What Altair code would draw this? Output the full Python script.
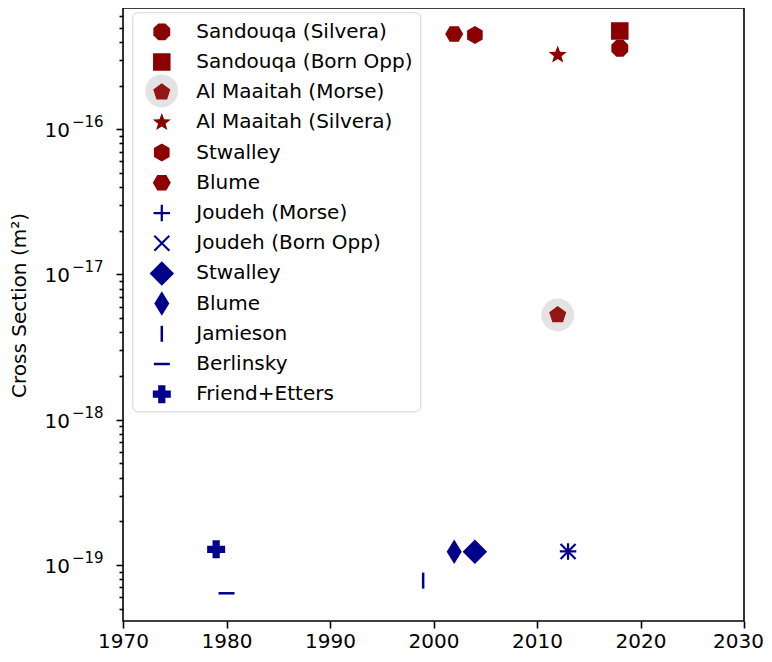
import math
import altair as alt
import pandas as pd

# ---------------- data ----------------
series_keys = [
    "Sandouqa (Silvera)", "Sandouqa (Born Opp)", "Al Maaitah (Morse)",
    "Al Maaitah (Silvera)", "Stwalley ", "Blume ", "Joudeh (Morse)",
    "Joudeh (Born Opp)", "Stwalley", "Blume", "Jamieson", "Berlinsky",
    "Friend+Etters",
]
years = [2018, 2018, 2012, 2012, 2004, 2002, 2013, 2013, 2004, 2002, 1999, 1980, 1979]
cross_sections = [3.61e-16, 4.75e-16, 5.26e-18, 3.25e-16, 4.46e-16, 4.53e-16,
                  1.24e-19, 1.24e-19, 1.235e-19, 1.235e-19, 7.8e-20, 6.38e-20, 1.28e-19]
highlighted = ["Al Maaitah (Morse)"]
x_ticks = [1970, 1980, 1990, 2000, 2010, 2020, 2030]
decades = [-16, -17, -18, -19]

# ---------------- styles ----------------
RED = "#8b0000"
BLUE = "#00008b"
colors = [RED, RED, "#931616", RED, RED, RED,
          BLUE, BLUE, BLUE, BLUE, BLUE, BLUE, BLUE]


def poly(pts):
    return "M" + " L".join(f"{x:.3f},{y:.3f}" for x, y in pts) + " Z"


def regular(n, r, start):
    return [(r * math.cos(math.radians(start + 360 * k / n)),
             r * math.sin(math.radians(start + 360 * k / n))) for k in range(n)]


def star(ro, ri):
    pts = []
    for k in range(10):
        r = ro if k % 2 == 0 else ri
        a = math.radians(-90 + 36 * k)
        pts.append((r * math.cos(a), r * math.sin(a)))
    return pts


def rect(hw, hh):
    return [(-hw, -hh), (hw, -hh), (hw, hh), (-hw, hh)]


def xcross(L, t):
    h = t / math.sqrt(2)
    r1 = [(-L + h, -L - h), (L + h, L - h), (L - h, L + h), (-L - h, -L + h)]
    r2 = [(-L + h, L + h), (-L - h, L - h), (L - h, -L - h), (L + h, -L + h)]
    return poly(r1) + " " + poly(r2)


def plus_thin(L, t):
    return poly(rect(L, t)) + " " + poly([(-t, -L), (t, -L), (t, L), (-t, L)])


def plus_filled(a, b):
    return poly([(-b, -a), (b, -a), (b, -b), (a, -b), (a, b), (b, b), (b, a),
                 (-b, a), (-b, b), (-a, b), (-a, -b), (-b, -b)])


shapes = [
    poly(regular(8, 0.73, 22.5)),          # octagon
    poly(rect(0.70, 0.70)),                # square
    poly(regular(5, 0.72, -90)),           # pentagon
    poly(star(0.76, 0.32)),                # star
    poly(regular(6, 0.72, -90)),           # hexagon (pointy top)
    poly(regular(6, 0.72, 0)),             # hexagon (pointy sides)
    plus_thin(0.66, 0.09),                 # +
    xcross(0.6, 0.085),                    # x
    poly([(0, -0.98), (0.98, 0), (0, 0.98), (-0.98, 0)]),   # diamond
    poly([(0, -0.98), (0.6, 0), (0, 0.98), (-0.6, 0)]),     # thin diamond
    poly(rect(0.1, 0.64)),                 # |
    poly(rect(0.64, 0.1)),                 # _
    plus_filled(0.72, 0.29),               # filled plus
]

SYM = 625  # 25 px box -> 1 unit = 12.5 px
FONT = "DejaVu Sans"

df = pd.DataFrame({"series": series_keys, "year": years, "cs": cross_sections})
hl_df = df[df["series"].isin(highlighted)].assign(hl="highlight")
lab_df = pd.DataFrame({
    "cs": [10.0 ** d for d in decades],
    "sup": ["\u2212" + str(abs(d)) for d in decades],
})

y_min, y_max = 10 ** -19.386, 10 ** -15.165
y_vals = []
for d in range(-20, -14):
    for m in range(1, 10):
        v = m * 10.0 ** d
        if y_min <= v <= y_max:
            y_vals.append(v)

y_scale = alt.Scale(type="log", domain=[y_min, y_max], nice=False)
major_test = "abs(log(datum.value)/LN10 - round(log(datum.value)/LN10)) < 0.001"
y_axis = alt.Axis(
    values=y_vals, labels=False, domain=False, grid=False,
    tickSize={"condition": {"test": major_test, "value": 7}, "value": 4},
    tickWidth=1.6, tickColor="black",
    title="Cross Section (m²)", titleFont=FONT, titleFontSize=20,
    titleFontWeight="normal", titleColor="black", titleX=-104, titleY=297,
    titleAlign="center", titleBaseline="middle", titleAngle=270,
)
Y = alt.Y("cs:Q", scale=y_scale, axis=y_axis)

x_enc = alt.X("year:Q", scale=alt.Scale(domain=[1970, 2030], nice=False),
              axis=alt.Axis(values=x_ticks, format="d", title=None, labelFontSize=20,
                            labelFont=FONT, labelColor="black", tickSize=7,
                            tickWidth=1.6, tickColor="black", labelPadding=3,
                            labelOffset={"condition": {"test": "datum.value >= 2030", "value": -6},
                                         "value": 0},
                            domain=False, grid=False, labelFlush=False))

main_legend = alt.Legend(
    orient="none", legendX=9.3, legendY=4.3, title=None,
    symbolSize=SYM, symbolStrokeWidth=0, labelFontSize=20, labelFont=FONT,
    labelColor="black", padding=7, rowPadding=5.2, symbolOffset=10,
    labelOffset=22, strokeColor="#d5d5d5", cornerRadius=5, zindex=1,
    labelLimit=400, gridAlign="all",
)

highlight = alt.Chart(hl_df).mark_circle(size=1075, opacity=1, strokeWidth=0).encode(
    x=x_enc, y=Y,
    fill=alt.Fill("hl:N", scale=alt.Scale(domain=["highlight"], range=["#e3e3e3"]),
                  legend=alt.Legend(orient="none", legendX=22.2, legendY=66.3, title=None,
                                    labelExpr="''", symbolType="circle", symbolSize=1075,
                                    symbolStrokeWidth=0, padding=0, zindex=0)),
)

points = alt.Chart(df).mark_point(filled=True, size=SYM, opacity=1, strokeWidth=0).encode(
    x=x_enc, y=Y,
    color=alt.Color("series:N", scale=alt.Scale(domain=series_keys, range=colors),
                    legend=main_legend),
    shape=alt.Shape("series:N", scale=alt.Scale(domain=series_keys, range=shapes),
                    legend=main_legend),
)

tens = alt.Chart(lab_df).mark_text(text="10", align="right", baseline="middle",
                                   fontSize=20, font=FONT, color="black", dy=2).encode(
    x=alt.value(-53), y=Y)
sups = alt.Chart(lab_df).mark_text(align="left", baseline="middle",
                                   fontSize=15, font=FONT, color="black", dy=-7).encode(
    x=alt.value(-51), y=Y, text="sup:N")

chart = alt.layer(highlight, points, tens, sups).properties(
    width=621, height=613,
    padding={"left": 115, "top": 0, "right": 20, "bottom": 33},
    autosize=alt.AutoSizeParams(type="none"),
).configure(
    font=FONT, background="white",
    view=alt.ViewConfig(stroke="black", strokeWidth=1.6),
)

chart.save("out.html", embed_options={"renderer": "svg", "actions": False})
